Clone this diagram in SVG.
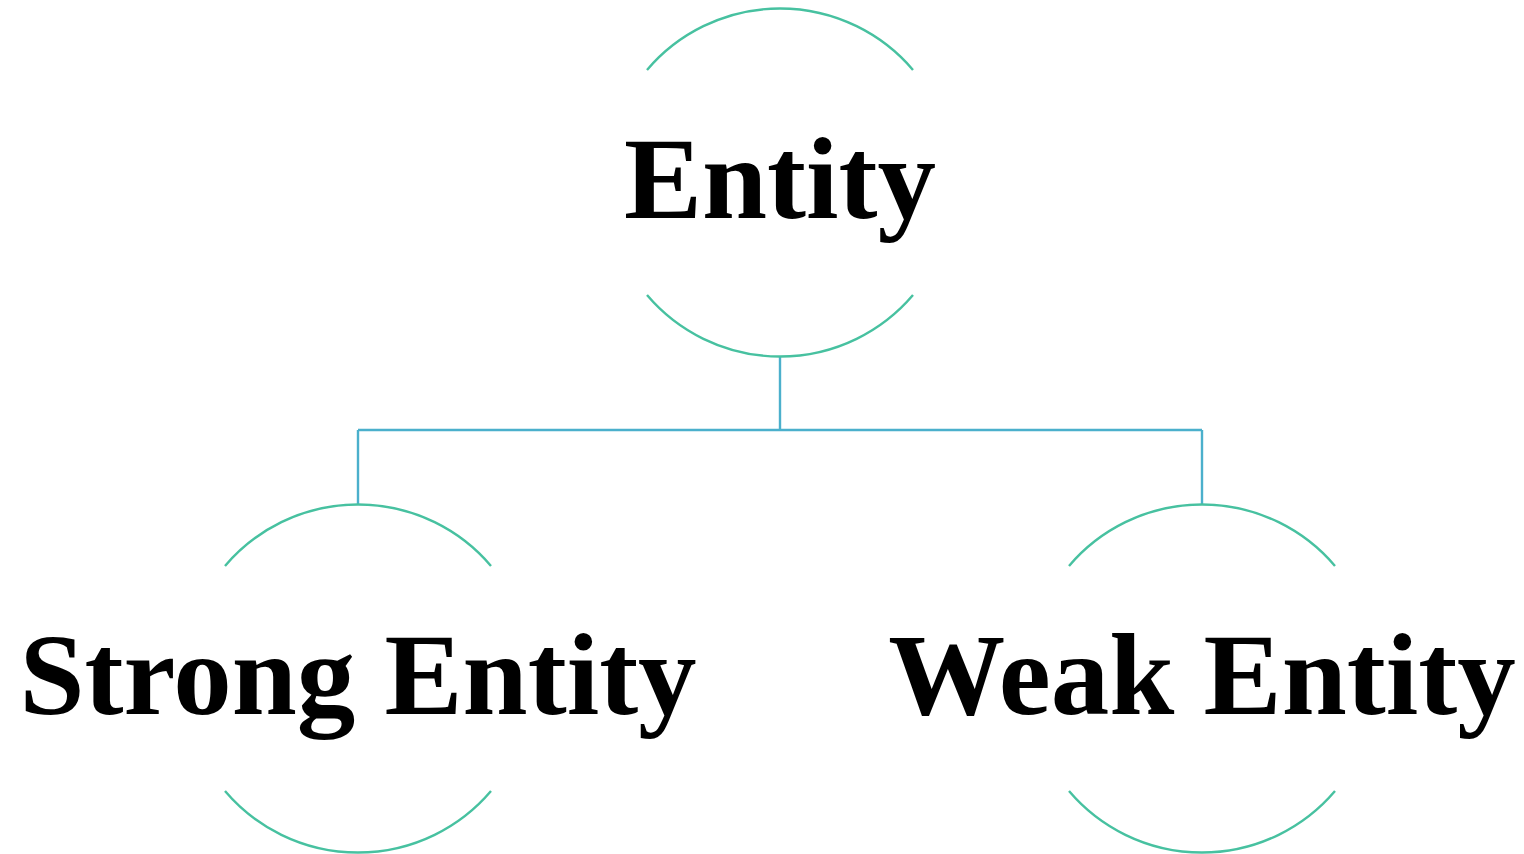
<svg xmlns="http://www.w3.org/2000/svg" width="1524" height="854" viewBox="0 0 1524 854">
  <style>
    .arc { fill: none; stroke: #47C1A0; stroke-width: 2.4; }
    .link { fill: none; stroke: #4BB0CC; stroke-width: 2.4; }
    .label { font-family: "Liberation Serif", "Times New Roman", serif; font-weight: bold; font-size: 117px; fill: #000; text-anchor: middle; }
  </style>
  <rect width="1524" height="854" fill="#fff"/>

  <g id="connectors">
    <path class="link" d="M780 357 V430 M358 430 H1202 M358 430 V504 M1202 430 V504"/>
  </g>

  <!-- Each node: circle shown as top and bottom arcs, r = 174.5 -->
  <g id="node-entity">
    <path class="arc" d="M647 70 A174.5 174.5 0 0 1 913 70"/>
    <path class="arc" d="M647 295 A174.5 174.5 0 0 0 913 295"/>
    <text class="label" x="780" y="218">Entity</text>
  </g>

  <g id="node-strong">
    <path class="arc" d="M225 566 A174.5 174.5 0 0 1 491 566"/>
    <path class="arc" d="M225 791 A174.5 174.5 0 0 0 491 791"/>
    <text class="label" x="358" y="714">Strong Entity</text>
  </g>

  <g id="node-weak">
    <path class="arc" d="M1069 566 A174.5 174.5 0 0 1 1335 566"/>
    <path class="arc" d="M1069 791 A174.5 174.5 0 0 0 1335 791"/>
    <text class="label" x="1202" y="714">Weak Entity</text>
  </g>
</svg>
